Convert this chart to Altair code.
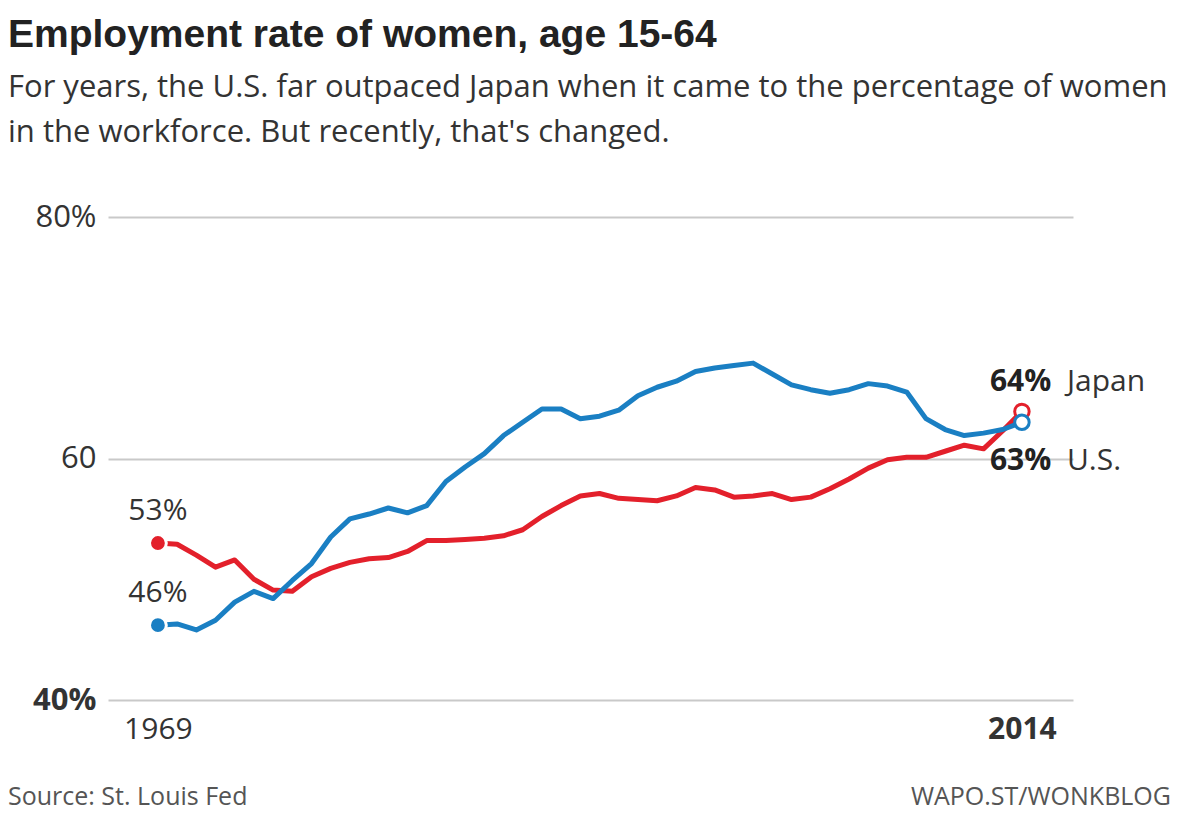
import altair as alt
import pandas as pd

years = list(range(1969, 2015))
japan = [53.0, 52.9, 52.0, 51.0, 51.6, 50.0, 49.1, 49.0, 50.2, 50.9,
         51.4, 51.7, 51.8, 52.3, 53.2, 53.2, 53.3, 53.4, 53.6, 54.1,
         55.2, 56.1, 56.9, 57.1, 56.7, 56.6, 56.5, 56.9, 57.6, 57.4,
         56.8, 56.9, 57.1, 56.6, 56.8, 57.5, 58.3, 59.2, 59.9, 60.1,
         60.1, 60.6, 61.1, 60.8, 62.3, 63.9]
us = [46.2, 46.3, 45.8, 46.6, 48.1, 49.0, 48.4, 49.9, 51.3, 53.5,
      55.0, 55.4, 55.9, 55.5, 56.1, 58.1, 59.3, 60.4, 61.9, 63.0,
      64.1, 64.1, 63.3, 63.5, 64.0, 65.2, 65.9, 66.4, 67.2, 67.5,
      67.7, 67.9, 67.0, 66.1, 65.7, 65.4, 65.7, 66.2, 66.0, 65.5,
      63.3, 62.4, 61.9, 62.1, 62.4, 63.0]
countries = ["Japan", "U.S."]
colors = ["#e3202b", "#1a7fc3"]
y_ticks = [40, 60, 80]
x_ticks = [years[0], years[-1]]

title = "Employment rate of women, age 15-64"
subtitle = ["For years, the U.S. far outpaced Japan when it came to the percentage of women",
            "in the workforce. But recently, that's changed."]
source = "Source: St. Louis Fed"
credit = "WAPO.ST/WONKBLOG"

W, H = 965, 483
FONT = "Open Sans"
TITLE_FONT = "Liberation Sans"

df = pd.DataFrame({
    "year": years * 2,
    "rate": japan + us,
    "country": ["Japan"] * len(years) + ["U.S."] * len(years),
})

color = alt.Color("country:N", scale=alt.Scale(domain=countries, range=colors), legend=None)

base = alt.Chart(df).encode(
    x=alt.X(
        "year:Q",
        scale=alt.Scale(domain=[1966.4, 2016.66], nice=False, zero=False),
        axis=alt.Axis(
            values=x_ticks, format="d", title=None, grid=False, domain=False, ticks=False,
            labelFontSize=30, labelColor="#333", labelFont=FONT, labelPadding=14,
            labelFontWeight={"condition": {"test": f"datum.value == {years[-1]}", "value": "bold"}, "value": "normal"},
        ),
    ),
    y=alt.Y(
        "rate:Q",
        scale=alt.Scale(domain=[40, 80], nice=False, zero=False),
        axis=alt.Axis(
            values=y_ticks, title=None, domain=False, ticks=False, grid=True,
            gridColor="#c9c9c9", gridWidth=2,
            labelExpr="datum.value == 60 ? '60' : datum.value + '%'",
            labelFontSize=31, labelColor="#333", labelFont=FONT, labelPadding=12,
            labelFontWeight={"condition": {"test": "datum.value == 40", "value": "bold"}, "value": "normal"},
        ),
    ),
    color=color,
)

lines = base.mark_line(strokeWidth=5, strokeJoin="round", strokeCap="butt")

start = base.transform_filter(alt.datum.year == years[0])
start_dots = start.mark_point(filled=True, size=283, stroke="white", strokeWidth=3, opacity=1)
start_dots = start_dots.encode(fill=color)
start_labels = start.transform_calculate(
    label="format(datum.rate, '.0f') + '%'"
).mark_text(fontSize=30, font=FONT, dy=-32, baseline="middle").encode(
    text="label:N", color=alt.value("#333")
)

end = base.transform_filter(alt.datum.year == years[-1])
end_dots = end.mark_point(filled=False, fill="white", size=210, strokeWidth=3, opacity=1)

end_pct = end.transform_calculate(label="format(datum.rate, '.0f') + '%'")
jp_pct = end_pct.transform_filter(alt.datum.country == "Japan").mark_text(
    fontSize=30, font=FONT, fontWeight="bold", align="left", dx=-32, dy=-29
).encode(text="label:N", color=alt.value("#222"))
jp_name = end.transform_filter(alt.datum.country == "Japan").mark_text(
    fontSize=30, font=FONT, align="left", dx=45, dy=-29
).encode(text="country:N", color=alt.value("#333"))
us_pct = end_pct.transform_filter(alt.datum.country == "U.S.").mark_text(
    fontSize=30, font=FONT, fontWeight="bold", align="left", dx=-32, dy=39
).encode(text="label:N", color=alt.value("#222"))
us_name = end.transform_filter(alt.datum.country == "U.S.").mark_text(
    fontSize=30, font=FONT, align="left", dx=45, dy=39
).encode(text="country:N", color=alt.value("#333"))

foot_left = alt.Chart(pd.DataFrame({"t": [source]})).mark_text(
    font=FONT, fontSize=25, color="#555", align="left", baseline="middle"
).encode(text="t:N", x=alt.value(-100), y=alt.value(H + 97))
foot_right = alt.Chart(pd.DataFrame({"t": [credit]})).mark_text(
    font=FONT, fontSize=25, color="#555", align="right", baseline="middle"
).encode(text="t:N", x=alt.value(W + 98), y=alt.value(H + 97))

chart = alt.layer(
    lines, start_dots, end_dots, start_labels, jp_pct, jp_name, us_pct, us_name,
    foot_left, foot_right,
).properties(
    width=W,
    height=H,
    autosize="none",
    padding={"left": 100, "top": 209, "right": 100, "bottom": 116},
    title=alt.TitleParams(
        text=title, subtitle=subtitle, anchor="start", frame="group", dx=-100, offset=53,
        font=TITLE_FONT, fontSize=39, fontWeight="bold", color="#222",
        subtitleFont=FONT, subtitleFontSize=31, subtitleColor="#333",
        subtitleLineHeight=45, subtitlePadding=18,
    ),
).configure_view(stroke="transparent")

chart.save("out.html", embed_options={"renderer": "svg", "actions": False})
